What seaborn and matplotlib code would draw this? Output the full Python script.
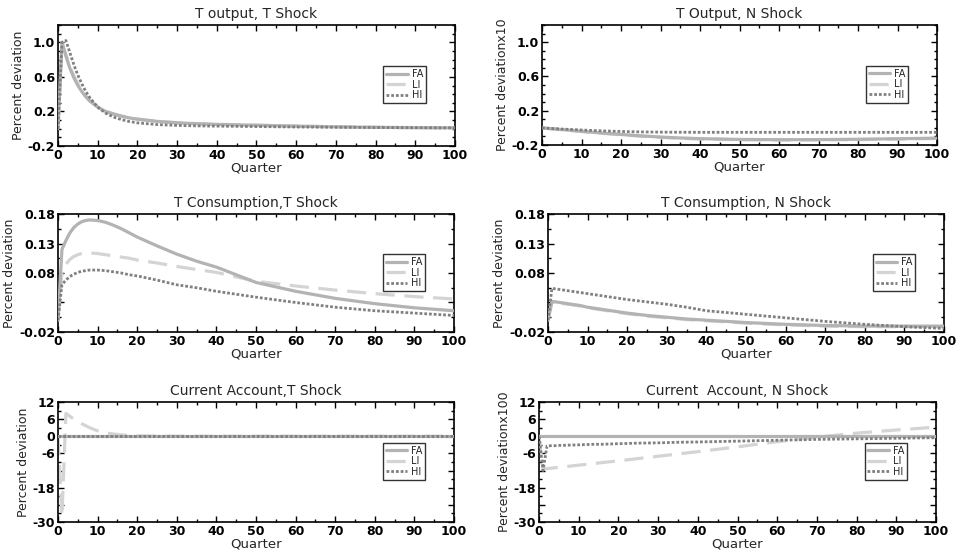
import numpy as np
import pandas as pd
import matplotlib
matplotlib.use("Agg")
import matplotlib.pyplot as plt
from matplotlib.ticker import MultipleLocator, AutoMinorLocator
import seaborn as sns

sns.set_style("ticks")
plt.rcParams['font.family'] = ['DejaVu Sans']

quarters = [0, 1, 2, 3, 4, 5, 6, 7, 8, 10, 12, 14, 16, 18, 20, 25, 30, 35, 40, 50, 60, 70, 80, 90, 100]

# T output, T shock
ty_t_fa = [0, 1.0, 0.84, 0.70, 0.59, 0.50, 0.43, 0.37, 0.32, 0.25, 0.20, 0.17, 0.145, 0.125, 0.11,
           0.085, 0.068, 0.058, 0.05, 0.04, 0.03, 0.022, 0.016, 0.012, 0.01]
ty_t_li = [0, 1.0, 0.86, 0.72, 0.61, 0.52, 0.44, 0.38, 0.33, 0.255, 0.205, 0.172, 0.147, 0.127, 0.112,
           0.086, 0.069, 0.059, 0.051, 0.041, 0.031, 0.023, 0.017, 0.013, 0.01]
ty_t_hi = [0, 1.0, 1.02, 0.88, 0.74, 0.62, 0.52, 0.43, 0.36, 0.25, 0.18, 0.135, 0.105, 0.083, 0.068,
           0.048, 0.038, 0.033, 0.03, 0.025, 0.02, 0.017, 0.014, 0.012, 0.01]

# T output, N shock (x10)
ty_n_fa = [0, -0.004, -0.008, -0.012, -0.016, -0.02, -0.024, -0.028, -0.032, -0.04, -0.048, -0.056, -0.063,
           -0.07, -0.077, -0.093, -0.107, -0.118, -0.126, -0.135, -0.138, -0.137, -0.133, -0.127, -0.12]
ty_n_li = [0, -0.005, -0.01, -0.014, -0.018, -0.023, -0.027, -0.031, -0.035, -0.044, -0.052, -0.06, -0.067,
           -0.074, -0.081, -0.097, -0.111, -0.122, -0.13, -0.139, -0.142, -0.141, -0.137, -0.131, -0.124]
ty_n_hi = [0, -0.003, -0.006, -0.009, -0.012, -0.014, -0.016, -0.018, -0.02, -0.025, -0.029, -0.033, -0.036,
           -0.039, -0.042, -0.047, -0.05, -0.051, -0.052, -0.052, -0.052, -0.052, -0.052, -0.052, -0.052]

# T consumption, T shock
tc_t_fa = [0, 0.12, 0.135, 0.148, 0.157, 0.163, 0.167, 0.169, 0.170, 0.169, 0.166, 0.161, 0.155, 0.148, 0.141,
           0.126, 0.112, 0.100, 0.090, 0.064, 0.049, 0.037, 0.028, 0.021, 0.016]
tc_t_li = [0, 0.08, 0.095, 0.103, 0.108, 0.111, 0.113, 0.114, 0.114, 0.113, 0.111, 0.109, 0.107, 0.105, 0.102,
           0.097, 0.091, 0.086, 0.081, 0.066, 0.058, 0.051, 0.045, 0.040, 0.036]
tc_t_hi = [0, 0.06, 0.068, 0.074, 0.078, 0.081, 0.083, 0.084, 0.085, 0.085, 0.084, 0.082, 0.080, 0.077, 0.075,
           0.068, 0.060, 0.055, 0.049, 0.039, 0.030, 0.022, 0.016, 0.012, 0.008]

# T consumption, N shock
tc_n_fa = [0, 0.032, 0.031, 0.030, 0.029, 0.028, 0.027, 0.026, 0.025, 0.022, 0.020, 0.018, 0.016, 0.014, 0.012,
           0.008, 0.005, 0.002, 0.0, -0.004, -0.007, -0.009, -0.010, -0.010, -0.010]
tc_n_li = [0, 0.031, 0.030, 0.029, 0.028, 0.027, 0.026, 0.025, 0.024, 0.021, 0.019, 0.017, 0.015, 0.013, 0.011,
           0.007, 0.004, 0.001, -0.001, -0.005, -0.008, -0.010, -0.011, -0.011, -0.011]
tc_n_hi = [0, 0.054, 0.053, 0.052, 0.051, 0.050, 0.049, 0.048, 0.047, 0.045, 0.043, 0.041, 0.039, 0.037, 0.035,
           0.031, 0.027, 0.022, 0.016, 0.010, 0.004, -0.002, -0.007, -0.011, -0.014]

# Current account, T shock
ca_t_fa = [0, 0, 0, 0, 0, 0, 0, 0, 0, 0, 0, 0, 0, 0, 0, 0, 0, 0, 0, 0, 0, 0, 0, 0, 0]
ca_t_li = [0, -28, 8, 7, 6, 5.2, 4.4, 3.7, 3.0, 1.9, 1.2, 0.8, 0.5, 0.3, 0.15, 0.05, 0, 0, 0, 0, 0, 0, 0, 0, 0]
ca_t_hi = [0, 0, 0, 0, 0, 0, 0, 0, 0, 0, 0, 0, 0, 0, 0, 0, 0, 0, 0, 0, 0, 0, 0, 0, 0]

# Current account, N shock (x100)
ca_n_fa = [0, 0, 0, 0, 0, 0, 0, 0, 0, 0, 0, 0, 0, 0, 0, 0, 0, 0, 0, 0, 0, 0, 0, 0, 0]
ca_n_li = [0, -11.5, -11.3, -11.2, -11.0, -10.9, -10.7, -10.6, -10.4, -10.1, -9.8, -9.5, -9.2, -8.9, -8.6,
           -7.8, -7.0, -6.2, -5.4, -3.7, -1.9, -0.3, 1.1, 2.2, 3.2]
ca_n_hi = [0, -12, -3.4, -3.3, -3.3, -3.2, -3.2, -3.1, -3.1, -3.0, -2.9, -2.8, -2.8, -2.7, -2.6,
           -2.4, -2.3, -2.1, -2.0, -1.7, -1.4, -1.1, -0.9, -0.7, -0.5]

titles = ["T output, T Shock", "T Output, N Shock",
          "T Consumption,T Shock", "T Consumption, N Shock",
          "Current Account,T Shock", "Current  Account, N Shock"]
ylabels = ["Percent deviation", "Percent deviationx10",
           "Percent deviation", "Percent deviation",
           "Percent deviation", "Percent deviationx100"]
series = [(ty_t_fa, ty_t_li, ty_t_hi), (ty_n_fa, ty_n_li, ty_n_hi),
          (tc_t_fa, tc_t_li, tc_t_hi), (tc_n_fa, tc_n_li, tc_n_hi),
          (ca_t_fa, ca_t_li, ca_t_hi), (ca_n_fa, ca_n_li, ca_n_hi)]

# y ticks per row
row_ticks = [[-0.2, 0.2, 0.6, 1.0], [-0.02, 0.03, 0.08, 0.13, 0.18], [12, 6, 0, -6, -12, -18, -24, -30]]
row_labels = [["-0.2", "0.2", "0.6", "1.0"], ["-0.02", "", "0.08", "0.13", "0.18"],
              ["12", "6", "0", "-6", "", "-18", "", "-30"]]
row_lims = [(-0.2, 1.2), (-0.02, 0.18), (-30, 12)]
row_minor = [4, 2, 2]

names = ["FA", "LI", "HI"]
colors = ["#b3b3b3", "#d4d4d4", "#808080"]
styles = ["-", (0, (6, 3)), (0, (1, 0.7))]
widths = [2.3, 2.3, 2.0]
zorders = [3, 2, 4]  # LI sits under FA

# axes rectangles (figure fraction)
rects = [[0.0604, 0.7374, 0.4135, 0.2176], [0.5646, 0.7392, 0.4115, 0.2158],
         [0.0604, 0.4029, 0.4125, 0.2122], [0.5708, 0.4029, 0.4125, 0.2122],
         [0.0604, 0.0612, 0.4125, 0.2158], [0.5615, 0.0612, 0.4135, 0.2158]]

fig = plt.figure(figsize=(9.6, 5.56), dpi=100)

for i in range(6):
    ax = fig.add_axes(rects[i])
    r = i // 2
    for vals, name, c, ls, lw, z in zip(series[i], names, colors, styles, widths, zorders):
        sns.lineplot(x=quarters, y=vals, ax=ax, color=c, linestyle=ls, linewidth=lw, label=name, zorder=z)
    ax.set_xlim(0, 100)
    ax.set_ylim(*row_lims[r])
    ax.xaxis.set_major_locator(MultipleLocator(10))
    ax.xaxis.set_minor_locator(MultipleLocator(5))
    ax.set_yticks(row_ticks[r])
    ax.set_yticklabels(row_labels[r])
    ax.yaxis.set_minor_locator(AutoMinorLocator(row_minor[r]))
    ax.tick_params(which='both', direction='in', top=True, right=True, width=1, colors='black')
    ax.tick_params(which='major', length=4, labelsize=9, pad=2)
    ax.tick_params(which='minor', length=2)
    for lab in ax.get_xticklabels() + ax.get_yticklabels():
        lab.set_fontweight('bold')
    for sp in ax.spines.values():
        sp.set_linewidth(1.2)
        sp.set_color('black')
    ax.set_title(titles[i], fontsize=10, pad=5)
    ax.set_xlabel("Quarter", fontsize=9.5, labelpad=0)
    ax.set_ylabel(ylabels[i], fontsize=9, labelpad=2)
    leg = ax.legend(loc='upper left', bbox_to_anchor=(0.82, 0.66), fontsize=7, frameon=True,
                    fancybox=False, handlelength=2.2, handletextpad=0.4, borderpad=0.3,
                    labelspacing=0.05, borderaxespad=0)
    leg.get_frame().set_edgecolor('black')
    leg.get_frame().set_linewidth(1.0)

plt.savefig("out.png", dpi=100)
